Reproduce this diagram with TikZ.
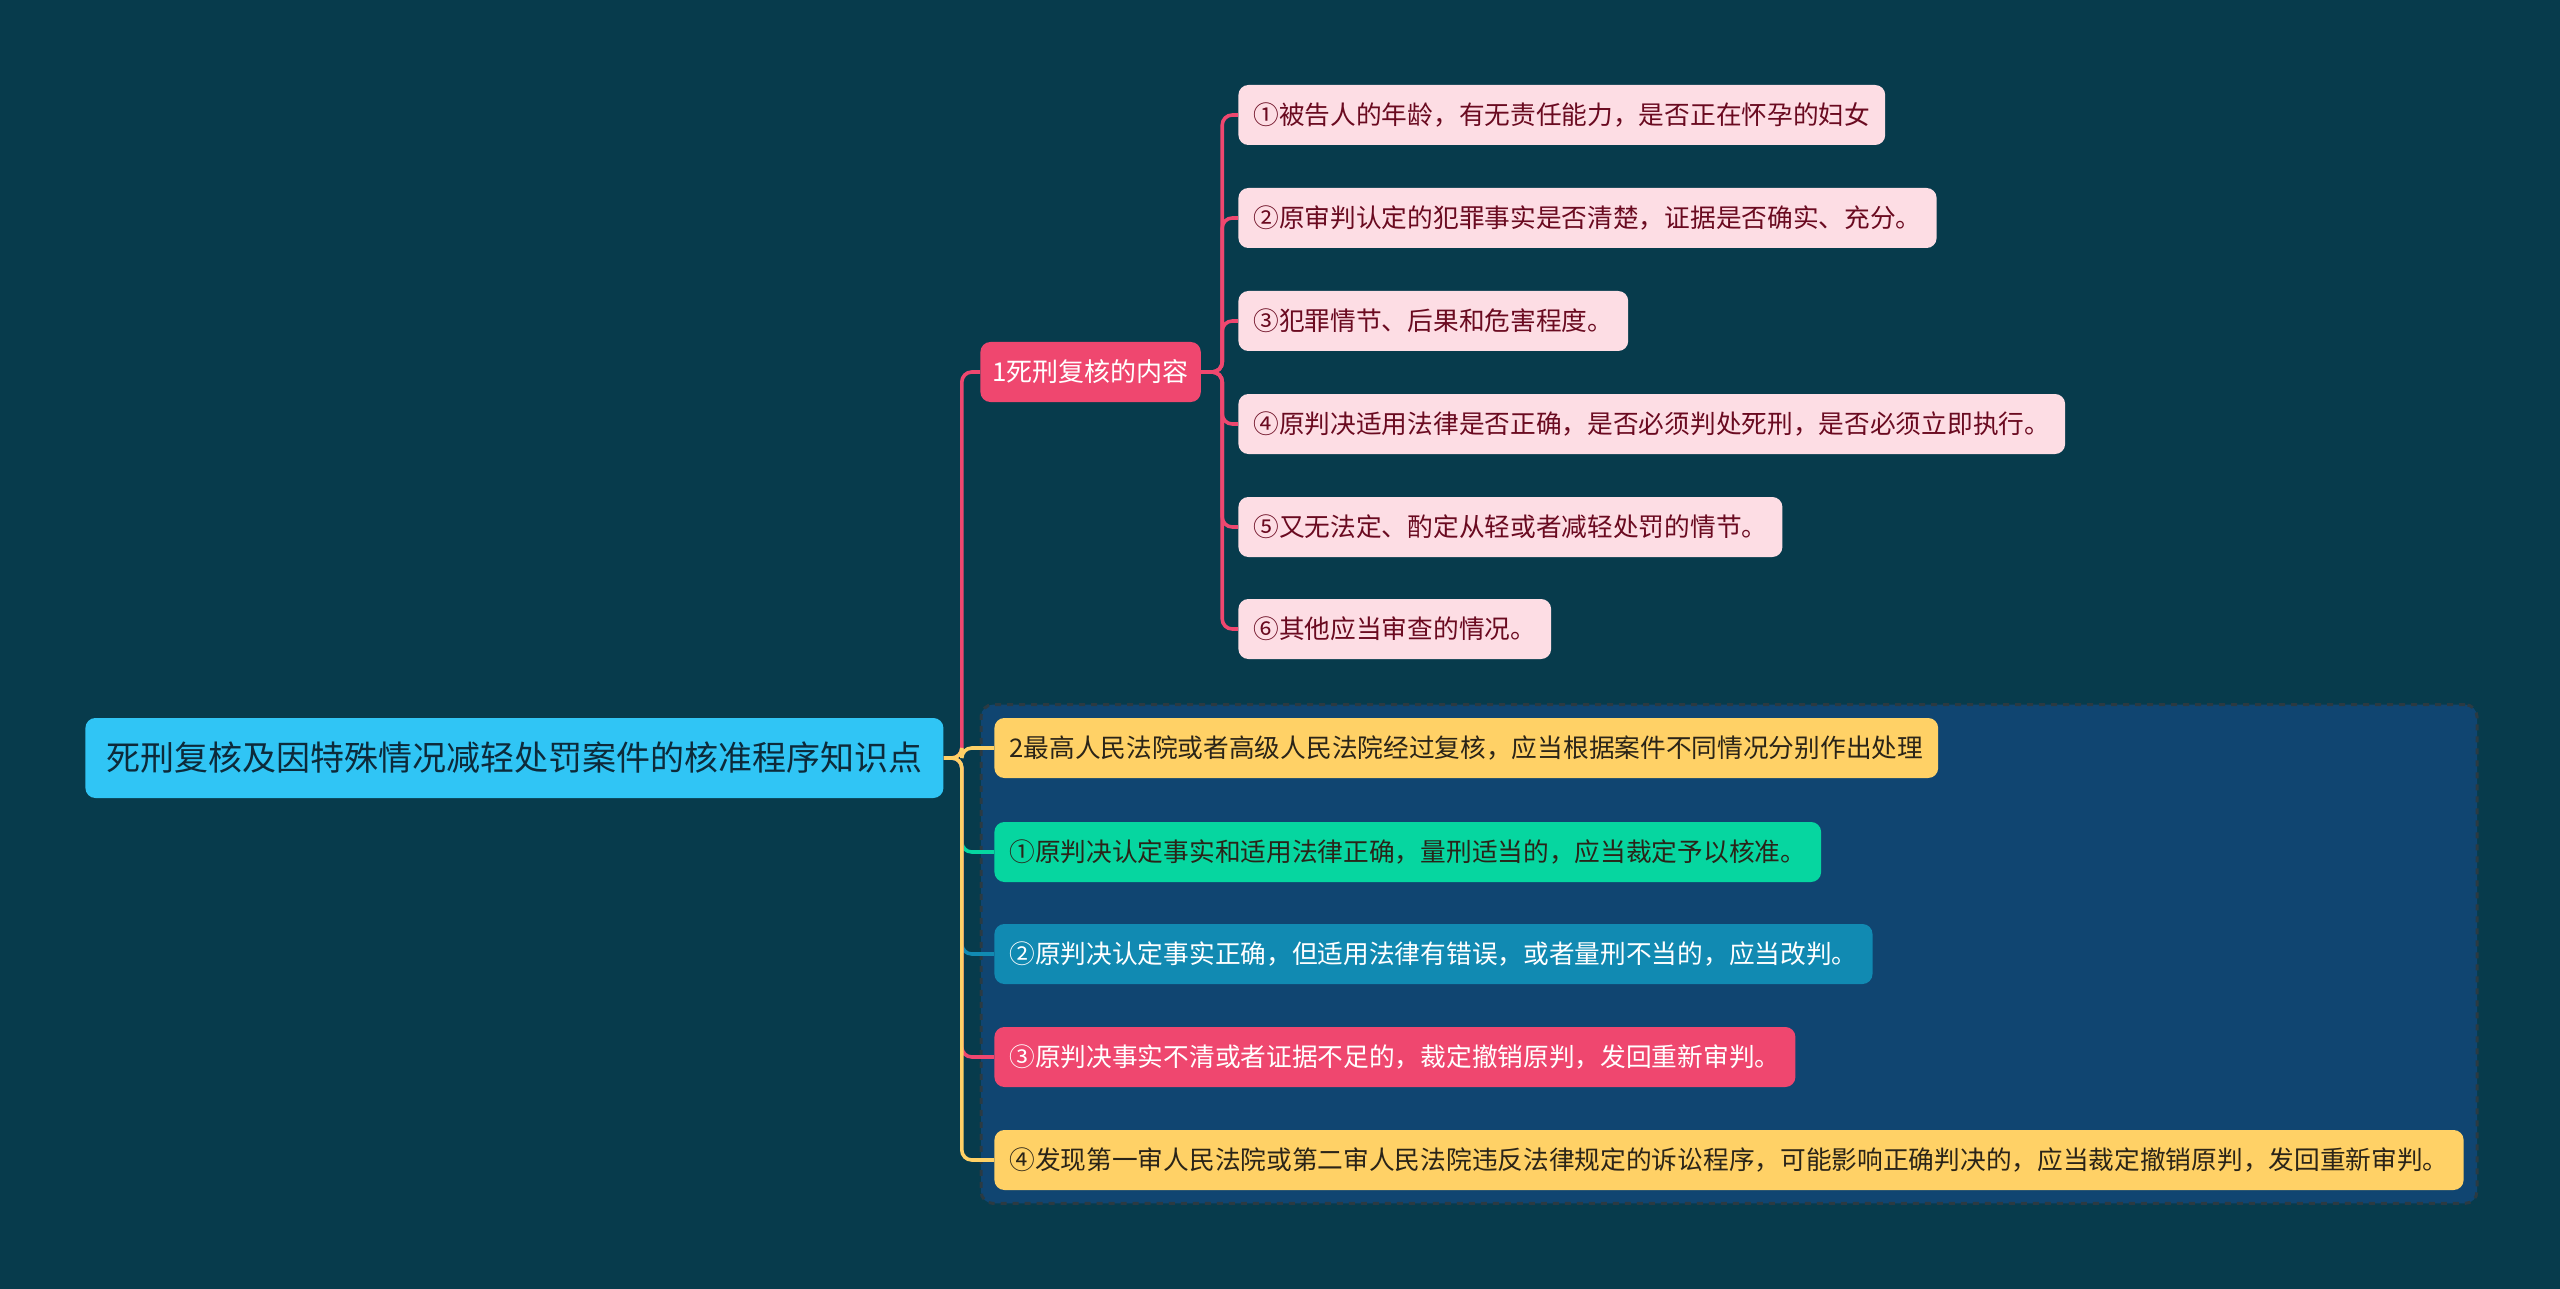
\documentclass[tikz,border=0pt]{standalone}
\usepackage{fontspec}
\setmainfont{Noto Sans CJK SC}
\usetikzlibrary{positioning,fit,backgrounds}
\definecolor{bgnavy}{HTML}{073B4C}
\definecolor{skyroot}{HTML}{30C5F5}
\definecolor{rootink}{HTML}{0D2A3A}
\definecolor{rosered}{HTML}{EF476F}
\definecolor{blush}{HTML}{FDDDE4}
\definecolor{maroon}{HTML}{6A0A20}
\definecolor{sunyellow}{HTML}{FFD166}
\definecolor{mint}{HTML}{06D6A0}
\definecolor{ocean}{HTML}{118AB2}
\definecolor{darkink}{HTML}{2A2418}
\definecolor{framefill}{HTML}{104571}
\definecolor{frameedge}{HTML}{2B3A42}
\tikzset{every node/.style={font=\fontsize{12.85}{15}\selectfont},
  box/.style={rounded corners=5pt,inner xsep=7.5pt,inner ysep=2pt,minimum height=30pt,anchor=west},
  rootbox/.style={box,fill=skyroot,text=rootink,minimum height=40pt,inner xsep=10.5pt,font=\fontsize{17}{20}\selectfont},
  topicbox/.style={box,fill=rosered,text=white,inner xsep=6pt,font=\fontsize{13}{16}\selectfont},
  leafbox/.style={box,fill=blush,text=maroon},
  sunbox/.style={box,fill=sunyellow,text=darkink},
  mintbox/.style={box,fill=mint,text=darkink},
  oceanbox/.style={box,fill=ocean,text=white},
  redbox/.style={box,fill=rosered,text=white},
  link/.style={line width=1.8pt,rounded corners=5pt},
  frame/.style={fill=framefill,draw=frameedge,dashed,line width=1.5pt,rounded corners=6pt,inner sep=6.5pt}}
\begin{document}
\begin{tikzpicture}[x=.5pt,y=-.5pt]
\useasboundingbox(0,0)rectangle(2560,1289);
% central topic
\node[rootbox](root)at(85,758){死刑复核及因特殊情况减轻处罚案件的核准程序知识点};
% first branch
\node[topicbox](t1)at(980,372){1死刑复核的内容};
\node[leafbox](l1)at(1238,115){①被告人的年龄，有无责任能力，是否正在怀孕的妇女};
\node[leafbox](l2)at(1238,218){②原审判认定的犯罪事实是否清楚，证据是否确实、充分。};
\node[leafbox](l3)at(1238,321){③犯罪情节、后果和危害程度。};
\node[leafbox](l4)at(1238,424){④原判决适用法律是否正确，是否必须判处死刑，是否必须立即执行。};
\node[leafbox](l5)at(1238,527){⑤又无法定、酌定从轻或者减轻处罚的情节。};
\node[leafbox](l6)at(1238,629){⑥其他应当审查的情况。};
% second branch
\node[sunbox](t2)at(994,748){2最高人民法院或者高级人民法院经过复核，应当根据案件不同情况分别作出处理};
\node[mintbox](c1)at(994,852){①原判决认定事实和适用法律正确，量刑适当的，应当裁定予以核准。};
\node[oceanbox](c2)at(994,954){②原判决认定事实正确，但适用法律有错误，或者量刑不当的，应当改判。};
\node[redbox](c3)at(994,1057){③原判决事实不清或者证据不足的，裁定撤销原判，发回重新审判。};
\node[sunbox](c4)at(994,1160){④发现第一审人民法院或第二审人民法院违反法律规定的诉讼程序，可能影响正确判决的，应当裁定撤销原判，发回重新审判。};
\begin{scope}[on background layer]
\fill[bgnavy](0,0)rectangle(2560,1289);
\node[frame,fit=(t2)(c4)](grp){};
\end{scope}
% connectors
\draw[link,rosered](root.east)--++(18,0)|-(t1.west);
\foreach \c/\n in {mint/c1,ocean/c2,rosered/c3}\draw[link,\c](root.east)--++(18,0)|-(\n.west);
\foreach \n in {t2,c4}\draw[link,sunyellow](root.east)--++(18,0)|-(\n.west);
\foreach \n in {l1,l2,l3,l4,l5,l6}\draw[link,rosered](t1.east)--++(21,0)|-(\n.west);
\end{tikzpicture}
\end{document}
